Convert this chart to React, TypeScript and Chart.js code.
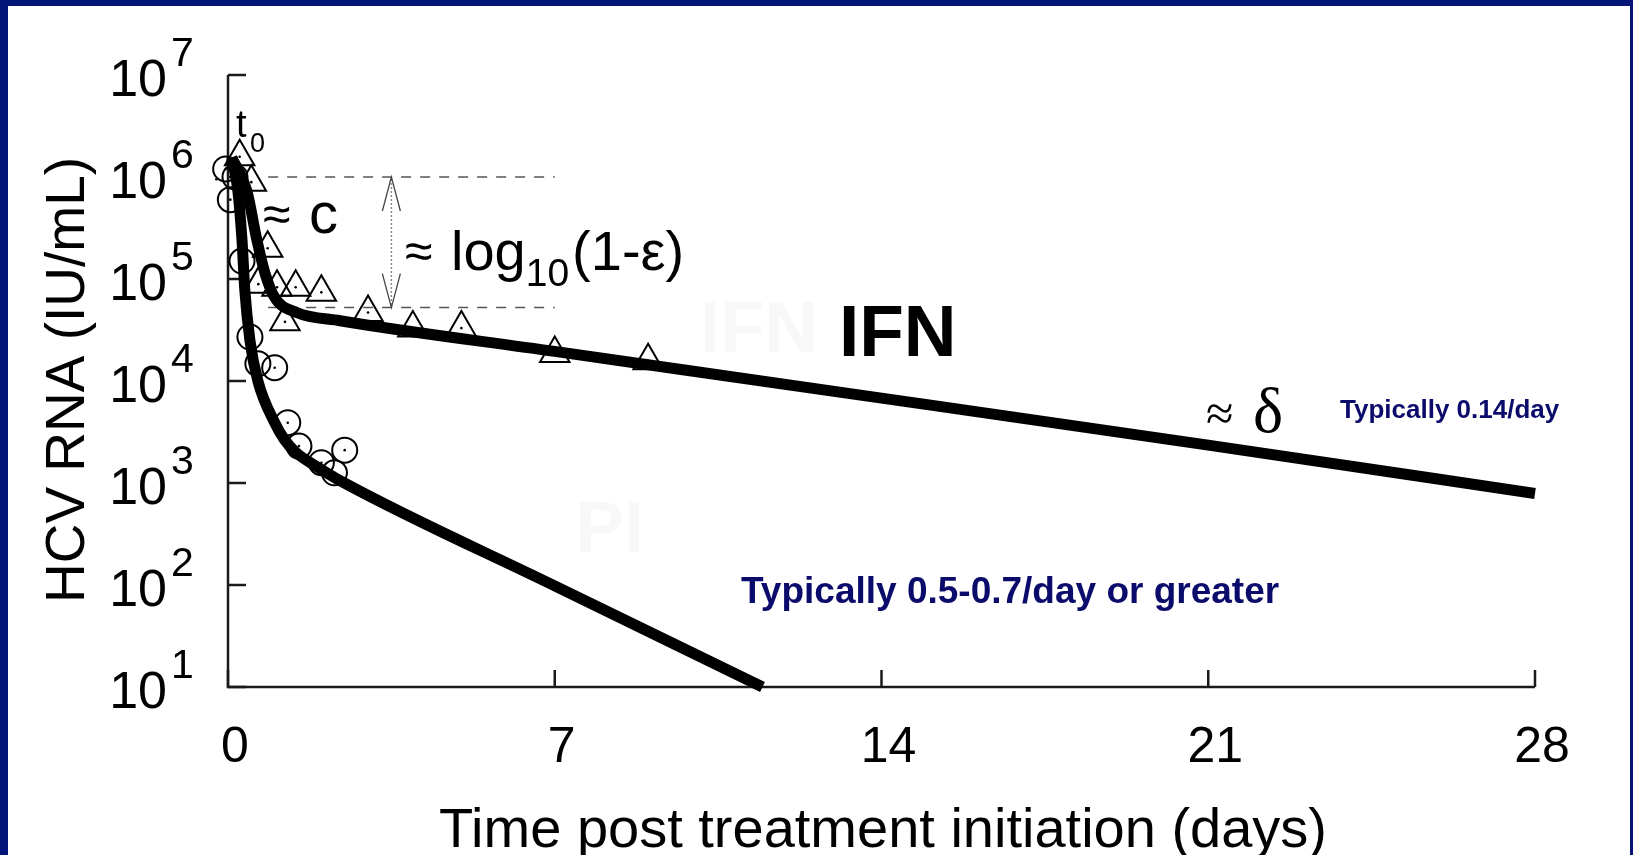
import React, { useEffect, useRef } from 'react';
import { Chart, registerables } from 'chart.js';

Chart.register(...registerables);

const W = 1633;
const H = 855;
const NAVY = '#031578';
const TEXT_NAVY = '#0b0b6b';
const SANS = '"Liberation Sans", Arial, Helvetica, sans-serif';
const SERIF = '"Liberation Serif", "Times New Roman", serif';

// Axis ticks
const xTicks = [0, 7, 14, 21, 28];
const yTicks = [1e1, 1e2, 1e3, 1e4, 1e5, 1e6, 1e7];
const yTickExponents = ['1', '2', '3', '4', '5', '6', '7'];

// IFN-treated patient: observed HCV RNA (triangles)
const ifnDays = [0.25, 0.5, 0.85, 0.65, 1.05, 1.45, 2.0, 1.22, 3.0, 3.96, 5.0, 7.0, 9.0];
const ifnObserved = [1.58e6, 8.9e5, 2.0e5, 8.9e4, 8.3e4, 8.3e4, 7.4e4, 3.8e4, 4.7e4, 3.3e4, 3.3e4, 1.86e4, 1.58e4];

// PI-treated patient: observed HCV RNA (circles)
const piDays = [-0.25, -0.05, 0.05, 0.15, 0.3, 0.47, 0.64, 1.0, 1.28, 1.52, 2.0, 2.28, 2.5];
const piObserved = [9.5e5, 1.2e6, 6.0e5, 1.0e6, 1.5e5, 2.7e4, 1.48e4, 1.35e4, 3.9e3, 2.3e3, 1.58e3, 1.26e3, 2.1e3];

// Model fits (thick curves)
const ifnFitDays = [0.08, 0.4, 0.62, 0.79, 1.0, 1.47, 2.4, 7, 14, 21, 28];
const ifnFit = [1.55e6, 7.4e5, 2.4e5, 1.15e5, 6.6e4, 4.7e4, 3.9e4, 1.95e4, 6.8e3, 2.35e3, 790];
const piFitDays = [0.08, 0.21, 0.3, 0.36, 0.47, 0.64, 1.0, 1.2, 1.45, 1.9, 2.46, 7, 11.45];
const piFit = [1.55e6, 7.4e5, 2.4e5, 7.8e4, 2.5e4, 1.0e4, 3.9e3, 2.7e3, 2.0e3, 1.45e3, 1.02e3, 98, 10];

// Annotation levels
const baselineLevel = 1e6;
const plateauLevel = 5.25e4;
const dashStartDay = 0.86;
const dashEndDay = 7;
const arrowDay = 3.5;

const toPoints = (xs: number[], ys: number[]) => xs.map((x, i) => ({ x, y: ys[i] }));

const decorPlugin = {
  id: 'decor',
  beforeDraw(chart: any) {
    const ctx = chart.ctx as CanvasRenderingContext2D;
    ctx.save();
    ctx.fillStyle = '#ffffff';
    ctx.fillRect(0, 0, W, H);
    ctx.fillStyle = NAVY;
    ctx.fillRect(0, 0, 8, H);
    ctx.fillRect(0, 0, W, 6);
    ctx.fillRect(1630, 0, 3, H);
    // faint watermark labels
    ctx.fillStyle = '#f8f8f8';
    ctx.font = `bold 73px ${SANS}`;
    ctx.textAlign = 'left';
    ctx.textBaseline = 'alphabetic';
    ctx.fillText('IFN', 700, 352);
    ctx.fillText('PI', 575, 552);
    ctx.restore();
  },
  beforeDatasetsDraw(chart: any) {
    const ctx = chart.ctx as CanvasRenderingContext2D;
    const xs = chart.scales.x;
    const ys = chart.scales.y;
    ctx.save();
    // dashed reference levels
    ctx.strokeStyle = '#555';
    ctx.lineWidth = 1.5;
    ctx.setLineDash([10, 9]);
    const xa = xs.getPixelForValue(dashStartDay);
    const xb = xs.getPixelForValue(dashEndDay);
    for (const lvl of [baselineLevel, plateauLevel]) {
      const y = ys.getPixelForValue(lvl);
      ctx.beginPath();
      ctx.moveTo(xa, y);
      ctx.lineTo(xb, y);
      ctx.stroke();
    }
    // vertical double arrow
    const ax = xs.getPixelForValue(arrowDay);
    const y1 = ys.getPixelForValue(baselineLevel);
    const y2 = ys.getPixelForValue(plateauLevel);
    ctx.setLineDash([2, 2]);
    ctx.strokeStyle = '#888';
    ctx.beginPath();
    ctx.moveTo(ax, y1 + 2);
    ctx.lineTo(ax, y2 - 2);
    ctx.stroke();
    ctx.setLineDash([]);
    ctx.strokeStyle = '#444';
    ctx.lineWidth = 1.3;
    ctx.beginPath();
    ctx.moveTo(ax - 9, y1 + 34);
    ctx.lineTo(ax, y1);
    ctx.lineTo(ax + 9, y1 + 34);
    ctx.moveTo(ax - 9, y2 - 34);
    ctx.lineTo(ax, y2);
    ctx.lineTo(ax + 9, y2 - 34);
    ctx.stroke();

    // axes
    const x0 = xs.getPixelForValue(xTicks[0]);
    const xEnd = xs.getPixelForValue(xTicks[xTicks.length - 1]);
    const yBottom = ys.getPixelForValue(yTicks[0]);
    const yTop = ys.getPixelForValue(yTicks[yTicks.length - 1]);
    ctx.strokeStyle = '#1a1a1a';
    ctx.lineWidth = 2.5;
    ctx.beginPath();
    ctx.moveTo(x0, yTop);
    ctx.lineTo(x0, yBottom);
    ctx.lineTo(xEnd, yBottom);
    ctx.stroke();
    ctx.beginPath();
    for (const v of yTicks) {
      const y = ys.getPixelForValue(v);
      ctx.moveTo(x0, y);
      ctx.lineTo(x0 + 18, y);
    }
    for (const v of xTicks) {
      const x = xs.getPixelForValue(v);
      ctx.moveTo(x, yBottom);
      ctx.lineTo(x, yBottom - 17);
    }
    ctx.stroke();

    // tick labels
    ctx.fillStyle = '#000';
    ctx.textBaseline = 'alphabetic';
    yTicks.forEach((v, i) => {
      const y = ys.getPixelForValue(v);
      ctx.font = `52px ${SANS}`;
      ctx.textAlign = 'right';
      ctx.fillText('10', x0 - 61, y + 21);
      ctx.font = `41px ${SANS}`;
      ctx.textAlign = 'left';
      ctx.fillText(yTickExponents[i], x0 - 57, y - 9);
    });
    ctx.font = `50px ${SANS}`;
    ctx.textAlign = 'center';
    xTicks.forEach((v) => {
      const x = xs.getPixelForValue(v);
      ctx.fillText(String(v), x + 7, yBottom + 75);
    });

    // axis titles
    ctx.font = `56px ${SANS}`;
    ctx.textAlign = 'center';
    ctx.fillText('Time post treatment initiation (days)', 883, 847);
    ctx.save();
    ctx.translate(84, 380);
    ctx.rotate(-Math.PI / 2);
    ctx.font = `55px ${SANS}`;
    ctx.fillText('HCV RNA (IU/mL)', 0, 0);
    ctx.restore();
    ctx.restore();
  },
  afterDatasetDraw(chart: any, args: any) {
    const ds = chart.data.datasets[args.index];
    if (!ds.centerDot) return;
    const ctx = chart.ctx as CanvasRenderingContext2D;
    ctx.save();
    ctx.fillStyle = '#000';
    for (const el of args.meta.data) {
      ctx.beginPath();
      ctx.arc(el.x, el.y, 1.3, 0, Math.PI * 2);
      ctx.fill();
    }
    ctx.restore();
  },
  afterDraw(chart: any) {
    const ctx = chart.ctx as CanvasRenderingContext2D;
    ctx.save();
    ctx.fillStyle = '#000';
    ctx.textAlign = 'left';
    ctx.textBaseline = 'alphabetic';
    // t0
    ctx.font = `38px ${SANS}`;
    ctx.fillText('t', 236, 137);
    ctx.font = `27px ${SANS}`;
    ctx.fillText('0', 250, 152);
    // ≈ c
    ctx.font = `50px ${SANS}`;
    ctx.fillText('\u2248', 263, 231);
    ctx.font = `58px ${SANS}`;
    ctx.fillText('c', 309, 233);
    // ≈ log10(1-ε)
    let x = 405;
    ctx.font = `50px ${SANS}`;
    ctx.fillText('\u2248', x, 268);
    x += 46;
    ctx.font = `56px ${SANS}`;
    ctx.fillText('log', x, 270);
    x += ctx.measureText('log').width;
    ctx.font = `39px ${SANS}`;
    ctx.fillText('10', x, 286);
    x += ctx.measureText('10').width;
    ctx.font = `56px ${SANS}`;
    ctx.fillText('(1-\u03b5)', x + 3, 270);
    // ≈ δ
    ctx.font = `50px ${SERIF}`;
    ctx.fillText('\u2248', 1206, 430);
    ctx.font = `64px ${SERIF}`;
    ctx.fillText('\u03b4', 1253, 432);
    // IFN
    ctx.font = `bold 73px ${SANS}`;
    ctx.fillText('IFN', 839, 356);
    // rates
    ctx.fillStyle = TEXT_NAVY;
    ctx.font = `bold 26px ${SANS}`;
    ctx.fillText('Typically 0.14/day', 1340, 418);
    ctx.font = `bold 37px ${SANS}`;
    ctx.fillText('Typically 0.5-0.7/day or greater', 741, 603);
    ctx.restore();
  },
};

export default function App() {
  const canvasRef = useRef<HTMLCanvasElement | null>(null);

  useEffect(() => {
    const canvas = canvasRef.current;
    if (!canvas) return;
    const chart = new Chart(canvas, {
      type: 'scatter',
      data: {
        datasets: [
          {
            label: 'IFN fit',
            data: toPoints(ifnFitDays, ifnFit),
            showLine: true,
            borderColor: '#000',
            borderWidth: 11,
            borderCapStyle: 'butt',
            borderJoinStyle: 'round',
            cubicInterpolationMode: 'monotone',
            pointRadius: 0,
            clip: false,
            order: 0,
          },
          {
            label: 'PI fit',
            data: toPoints(piFitDays, piFit),
            showLine: true,
            borderColor: '#000',
            borderWidth: 11,
            borderCapStyle: 'butt',
            borderJoinStyle: 'round',
            cubicInterpolationMode: 'monotone',
            pointRadius: 0,
            clip: false,
            order: 0,
          },
          {
            label: 'IFN data',
            data: toPoints(ifnDays, ifnObserved),
            pointStyle: 'triangle',
            pointRadius: 17,
            pointBorderWidth: 2,
            pointBorderColor: '#000',
            pointBackgroundColor: 'rgba(255,255,255,0)',
            clip: false,
            order: 1,
            centerDot: true,
          } as any,
          {
            label: 'PI data',
            data: toPoints(piDays, piObserved),
            pointStyle: 'circle',
            pointRadius: 12.5,
            pointBorderWidth: 2,
            pointBorderColor: '#000',
            pointBackgroundColor: 'rgba(255,255,255,0)',
            clip: false,
            order: 1,
            centerDot: true,
          } as any,
        ],
      },
      options: {
        responsive: false,
        maintainAspectRatio: false,
        devicePixelRatio: 1,
        animation: false,
        events: [],
        layout: { padding: { left: 228, right: 98, top: 75, bottom: 168 } },
        plugins: { legend: { display: false }, tooltip: { enabled: false } },
        scales: {
          x: { type: 'linear', min: 0, max: 28, display: false },
          y: { type: 'logarithmic', min: 10, max: 1e7, display: false },
        },
      },
      plugins: [decorPlugin],
    });
    return () => chart.destroy();
  }, []);

  return (
    <div style={{ position: 'fixed', left: 0, top: 0, width: W, height: H }}>
      <canvas ref={canvasRef} width={W} height={H} style={{ width: W, height: H, display: 'block' }} />
    </div>
  );
}
